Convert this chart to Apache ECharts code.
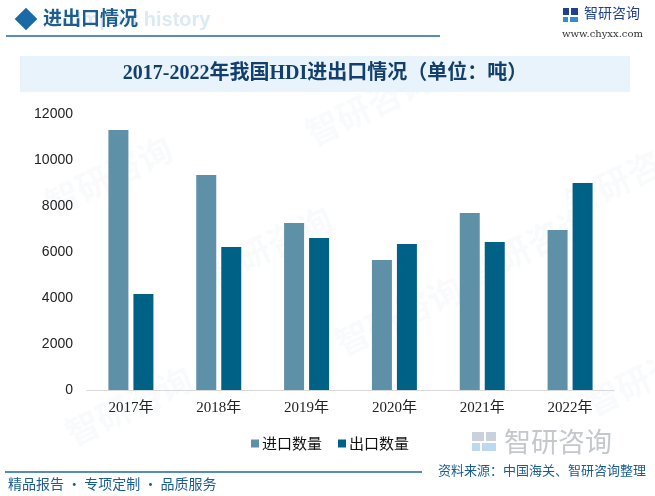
<!DOCTYPE html>
<html>
<head>
<meta charset="utf-8">
<script src="https://cdn.jsdelivr.net/npm/echarts@6/dist/echarts.min.js"></script>
<style>
  html, body { margin: 0; padding: 0; background: #fff; }
  #main { width: 655px; height: 496px; }
</style>
</head>
<body>
<div id="main"></div>
<script>
// 数据
const years = ["2017年", "2018年", "2019年", "2020年", "2021年", "2022年"];
const importQty = [11300, 9350, 7260, 5650, 7700, 6960];
const exportQty = [4170, 6220, 6610, 6350, 6430, 9000];
const seriesNames = ["进口数量", "出口数量"];

const chart = echarts.init(document.getElementById("main"));

// 水印
const marks = [];
[[40, 190], [300, 120], [560, 190], [60, 420], [330, 330], [580, 390], [200, 260], [460, 260]].forEach(function (p) {
  marks.push({
    type: "text", x: p[0], y: p[1], rotation: Math.PI / 7, z: 0, silent: true,
    style: { text: "智研咨询", font: "bold 34px 'Noto Sans CJK SC'", fill: "rgba(200,210,220,0.11)" }
  });
});

const option = {
  backgroundColor: "#fff",
  animation: false,
  grid: { left: 87, right: 41, top: 114, bottom: 106 },
  legend: {
    data: seriesNames,
    left: 246, top: 431,
    itemWidth: 8, itemHeight: 8, itemGap: 16,
    icon: "rect",
    textStyle: { fontSize: 15, color: "#111", fontFamily: "'Noto Sans CJK SC'", padding: [0, 0, 0, -2] }
  },
  xAxis: {
    type: "category",
    data: years,
    axisLine: { lineStyle: { color: "#d9d9d9", width: 1 } },
    axisTick: { show: false },
    axisLabel: { margin: 11, fontSize: 15, color: "#222", fontFamily: "'Liberation Serif', 'Noto Sans CJK SC'" }
  },
  yAxis: {
    type: "value",
    min: 0, max: 12000, interval: 2000,
    splitLine: { show: false },
    axisLine: { show: false },
    axisLabel: {
      margin: 14, fontSize: 14, color: "#222", fontFamily: "'Liberation Sans', Arial",
      formatter: function (v) { return String(v); }
    }
  },
  series: [
    { name: seriesNames[0], type: "bar", data: importQty, barWidth: 20, barGap: "25%", itemStyle: { color: "#5e91a8" } },
    { name: seriesNames[1], type: "bar", data: exportQty, barWidth: 20, itemStyle: { color: "#006186" } }
  ],
  graphic: marks.concat([
    // 顶部栏
    { type: "text", x: 76, y: 10, z: 1, style: { text: "Import history", font: "bold 20px 'Liberation Sans'", fill: "#dde9f3" } },
    { type: "rect", shape: { x: -8, y: -8, width: 16, height: 16 }, x: 26, y: 19, rotation: Math.PI / 4, z: 2, style: { fill: "#1a6aa6" } },
    { type: "text", x: 43, y: 8, z: 2, style: { text: "进出口情况", font: "bold 19px 'Noto Sans CJK SC'", fill: "#1c5e93" } },
    { type: "line", shape: { x1: 6, y1: 36, x2: 440, y2: 36 }, z: 2, style: { stroke: "#1a67a0", lineWidth: 1.5 } },
    { type: "rect", shape: { x: 563, y: 8, width: 6, height: 7 }, style: { fill: "#1f3f8f" } },
    { type: "rect", shape: { x: 571, y: 8, width: 7, height: 7 }, style: { fill: "#1f3f8f" } },
    { type: "rect", shape: { x: 563, y: 17, width: 5, height: 5 }, style: { fill: "#2f8fd6" } },
    { type: "rect", shape: { x: 570, y: 17, width: 8, height: 5 }, style: { fill: "#2f8fd6" } },
    { type: "text", x: 584, y: 6, style: { text: "智研咨询", font: "14px 'Noto Sans CJK SC'", fill: "#1f3f8f" } },
    { type: "text", x: 562, y: 29, style: { text: "www.chyxx.com", font: "10px 'DejaVu Serif'", fill: "#333" } },
    // 标题栏
    { type: "rect", shape: { x: 20, y: 56, width: 610, height: 36 }, z: 1, style: { fill: "#e8f3fb" } },
    { type: "text", x: 325, y: 74, z: 2, style: { text: "2017-2022年我国HDI进出口情况（单位：吨）", font: "bold 20px 'Liberation Serif', 'Noto Sans CJK SC'", fill: "#123f6b", align: "center", verticalAlign: "middle" } },
    // 底部
    { type: "rect", shape: { x: 472, y: 432, width: 12, height: 9 }, style: { fill: "#c9d1dc" } },
    { type: "rect", shape: { x: 486, y: 432, width: 10, height: 9 }, style: { fill: "#c9d1dc" } },
    { type: "rect", shape: { x: 472, y: 443, width: 8, height: 8 }, style: { fill: "#bcd9ef" } },
    { type: "rect", shape: { x: 482, y: 443, width: 14, height: 8 }, style: { fill: "#bcd9ef" } },
    { type: "text", x: 504, y: 428, style: { text: "智研咨询", font: "27px 'Noto Sans CJK SC'", fill: "#c4c8cc" } },
    { type: "line", shape: { x1: 5, y1: 472, x2: 422, y2: 472 }, style: { stroke: "#1a67a0", lineWidth: 1.5 } },
    { type: "text", x: 438, y: 464, style: { text: "资料来源：中国海关、智研咨询整理", font: "13px 'Noto Sans CJK SC'", fill: "#1a5c94" } },
    { type: "text", x: 8, y: 477, style: { text: "精品报告 · 专项定制 · 品质服务", font: "14px 'Noto Sans CJK SC'", fill: "#1a5c94" } }
  ])
};
chart.setOption(option);
</script>
</body>
</html>
